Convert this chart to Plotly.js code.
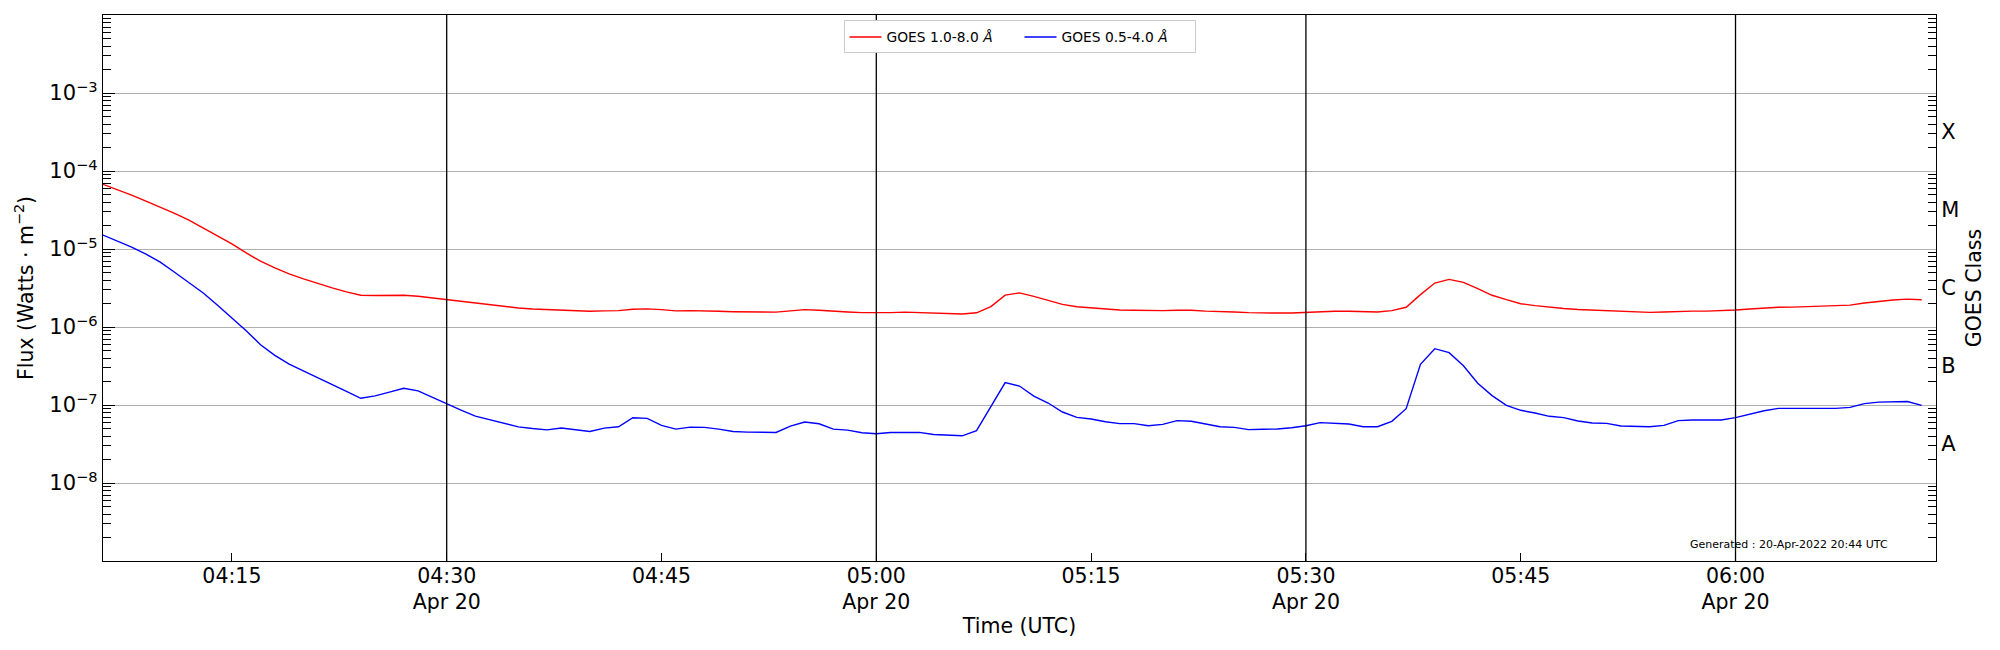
<!DOCTYPE html>
<html>
<head>
<meta charset="utf-8">
<script src="https://cdn.plot.ly/plotly-3.0.1.min.js"></script>
<style>
  body { margin: 0; background: #fff; }
  #goes { width: 2000px; height: 650px; }
</style>
</head>
<body>
<div id="goes"></div>
<script>
// Sample times (UTC, 20 Apr 2022), one per minute
var day = "2022-04-20 ";
var times = [
  "04:06","04:07","04:08","04:09","04:10","04:11","04:12","04:13","04:14","04:15",
  "04:16","04:17","04:18","04:19","04:20","04:21","04:22","04:23","04:24","04:25",
  "04:26","04:27","04:28","04:29","04:30","04:31","04:32","04:33","04:34","04:35",
  "04:36","04:37","04:38","04:39","04:40","04:41","04:42","04:43","04:44","04:45",
  "04:46","04:47","04:48","04:49","04:50","04:51","04:52","04:53","04:54","04:55",
  "04:56","04:57","04:58","04:59","05:00","05:01","05:02","05:03","05:04","05:05",
  "05:06","05:07","05:08","05:09","05:10","05:11","05:12","05:13","05:14","05:15",
  "05:16","05:17","05:18","05:19","05:20","05:21","05:22","05:23","05:24","05:25",
  "05:26","05:27","05:28","05:29","05:30","05:31","05:32","05:33","05:34","05:35",
  "05:36","05:37","05:38","05:39","05:40","05:41","05:42","05:43","05:44","05:45",
  "05:46","05:47","05:48","05:49","05:50","05:51","05:52","05:53","05:54","05:55",
  "05:56","05:57","05:58","05:59","06:00","06:01","06:02","06:03","06:04","06:05",
  "06:06","06:07","06:08","06:09","06:10","06:11","06:12","06:13"
];

// GOES 1.0-8.0 A flux (W/m^2)
var xrsb = [
  6.74e-5,5.8e-5,4.9e-5,4.1e-5,3.45e-5,2.86e-5,2.35e-5,1.87e-5,1.49e-5,1.16e-5,
  8.9e-6,6.98e-6,5.73e-6,4.8e-6,4.14e-6,3.6e-6,3.17e-6,2.82e-6,2.55e-6,2.53e-6,
  2.53e-6,2.55e-6,2.48e-6,2.36e-6,2.25e-6,2.12e-6,2.01e-6,1.92e-6,1.83e-6,1.75e-6,
  1.70e-6,1.67e-6,1.66e-6,1.63e-6,1.59e-6,1.61e-6,1.62e-6,1.69e-6,1.71e-6,1.67e-6,
  1.61e-6,1.62e-6,1.62e-6,1.59e-6,1.57e-6,1.56e-6,1.55e-6,1.55e-6,1.61e-6,1.67e-6,
  1.64e-6,1.59e-6,1.56e-6,1.53e-6,1.52e-6,1.53e-6,1.55e-6,1.53e-6,1.50e-6,1.49e-6,
  1.47e-6,1.52e-6,1.83e-6,2.56e-6,2.74e-6,2.47e-6,2.2e-6,1.95e-6,1.82e-6,1.75e-6,
  1.70e-6,1.65e-6,1.64e-6,1.62e-6,1.62e-6,1.64e-6,1.64e-6,1.60e-6,1.59e-6,1.56e-6,
  1.53e-6,1.51e-6,1.51e-6,1.51e-6,1.54e-6,1.58e-6,1.59e-6,1.59e-6,1.56e-6,1.56e-6,
  1.62e-6,1.79e-6,2.6e-6,3.66e-6,4.08e-6,3.74e-6,3.1e-6,2.55e-6,2.24e-6,1.99e-6,
  1.88e-6,1.79e-6,1.73e-6,1.68e-6,1.65e-6,1.62e-6,1.59e-6,1.56e-6,1.54e-6,1.56e-6,
  1.59e-6,1.60e-6,1.60e-6,1.62e-6,1.65e-6,1.70e-6,1.75e-6,1.79e-6,1.80e-6,1.82e-6,
  1.84e-6,1.86e-6,1.91e-6,2.03e-6,2.13e-6,2.22e-6,2.28e-6,2.24e-6
];

// GOES 0.5-4.0 A flux (W/m^2)
var xrsa = [
  1.51e-5,1.27e-5,1.06e-5,8.6e-6,6.8e-6,5.04e-6,3.75e-6,2.73e-6,1.9e-6,1.31e-6,
  8.97e-7,5.93e-7,4.33e-7,3.35e-7,2.75e-7,2.26e-7,1.83e-7,1.49e-7,1.22e-7,1.31e-7,
  1.46e-7,1.64e-7,1.52e-7,1.25e-7,1.03e-7,8.6e-8,7.2e-8,6.46e-8,5.78e-8,5.24e-8,
  4.99e-8,4.8e-8,5.06e-8,4.85e-8,4.58e-8,5.06e-8,5.26e-8,6.87e-8,6.74e-8,5.47e-8,
  4.91e-8,5.21e-8,5.16e-8,4.91e-8,4.58e-8,4.49e-8,4.49e-8,4.45e-8,5.37e-8,6.04e-8,
  5.75e-8,4.91e-8,4.77e-8,4.41e-8,4.28e-8,4.45e-8,4.45e-8,4.45e-8,4.19e-8,4.15e-8,
  4.03e-8,4.68e-8,9.6e-8,1.94e-7,1.75e-7,1.3e-7,1.06e-7,8.13e-8,6.95e-8,6.62e-8,
  6.11e-8,5.77e-8,5.77e-8,5.43e-8,5.65e-8,6.3e-8,6.18e-8,5.71e-8,5.27e-8,5.17e-8,
  4.83e-8,4.88e-8,4.93e-8,5.12e-8,5.43e-8,5.94e-8,5.82e-8,5.71e-8,5.27e-8,5.27e-8,
  6.18e-8,8.97e-8,3.32e-7,5.27e-7,4.69e-7,3.19e-7,1.9e-7,1.32e-7,9.9e-8,8.55e-8,
  7.89e-8,7.16e-8,6.89e-8,6.24e-8,5.88e-8,5.82e-8,5.38e-8,5.27e-8,5.27e-8,5.48e-8,
  6.3e-8,6.42e-8,6.48e-8,6.42e-8,6.89e-8,7.59e-8,8.45e-8,9.06e-8,9.06e-8,9.06e-8,
  9.06e-8,9.06e-8,9.33e-8,1.04e-7,1.09e-7,1.1e-7,1.11e-7,9.9e-8
];

// tick labels
var xTicks = ["04:15","04:30","04:45","05:00","05:15","05:30","05:45","06:00"];
var xTickText = ["04:15","04:30<br>Apr 20","04:45","05:00<br>Apr 20","05:15","05:30<br>Apr 20","05:45","06:00<br>Apr 20"];
var dayLines = ["04:30","05:00","05:30","06:00"];
var fluxTicks = [1e-8,1e-7,1e-6,1e-5,1e-4,1e-3];
var fluxTickText = ["10<sup>−8</sup>","10<sup>−7</sup>","10<sup>−6</sup>","10<sup>−5</sup>","10<sup>−4</sup>","10<sup>−3</sup>"];
var classes = ["A","B","C","M","X"];
var classPos = [3.16e-8,3.16e-7,3.16e-6,3.16e-5,3.16e-4];

var x = times.map(function(t){ return day + t; });

// minor log ticks 2..9 per decade
var minorVals = [];
for (var e = -9; e < -2; e++) {
  for (var k = 2; k <= 9; k++) minorVals.push(k * Math.pow(10, e));
}

var fontFam = "DejaVu Sans, sans-serif";

var data = [
  {
    x: x, y: xrsb, type: "scatter", mode: "lines",
    name: "GOES 1.0-8.0 <i>Å</i>",
    line: { color: "#ff0000", width: 1.4 }
  },
  {
    // same range as the left axis, so this also gives the class axis its data
    x: x, y: xrsa, type: "scatter", mode: "lines", yaxis: "y2",
    name: "GOES 0.5-4.0 <i>Å</i>",
    line: { color: "#0000ff", width: 1.4 }
  }
];

var shapes = dayLines.map(function(t){
  return { type: "line", xref: "x", yref: "paper", x0: day + t, x1: day + t, y0: 0, y1: 1,
           line: { color: "black", width: 1.3 }, layer: "above" };
});

var layout = {
  width: 2000, height: 650,
  margin: { l: 103, r: 64, t: 15, b: 89 },
  paper_bgcolor: "white", plot_bgcolor: "white",
  font: { family: fontFam, color: "black", size: 20 },
  showlegend: true,
  legend: {
    orientation: "h", x: 0.5, xanchor: "center", y: 0.99, yanchor: "top",
    bordercolor: "#cccccc", borderwidth: 1, bgcolor: "white",
    font: { size: 13.8 }, entrywidth: 128, itemwidth: 32
  },
  xaxis: {
    type: "date",
    range: [day + "04:06:00", day + "06:14:00"],
    tickmode: "array",
    tickvals: xTicks.map(function(t){ return day + t; }),
    ticktext: xTickText,
    ticks: "inside", ticklen: 8, tickcolor: "black",
    showline: true, linecolor: "black", linewidth: 1.1, mirror: true,
    showgrid: false, zeroline: false,
    ticklabelstandoff: -4,
    tickfont: { size: 20.5 },
    title: { text: "Time (UTC)", font: { size: 20.5 }, standoff: 5 }
  },
  yaxis: {
    type: "log", range: [-9, -2],
    tickmode: "array", tickvals: fluxTicks, ticktext: fluxTickText,
    ticks: "inside", ticklen: 12, tickcolor: "black",
    showline: true, linecolor: "black", linewidth: 1.1,
    showgrid: true, gridcolor: "#b0b0b0", gridwidth: 1,
    zeroline: false,
    minor: { tickmode: "array", tickvals: minorVals, ticks: "inside", ticklen: 8, tickcolor: "black", showgrid: false },
    tickfont: { size: 21 },
    title: { text: "Flux (Watts · m<sup>−2</sup>)", font: { size: 20.5 }, standoff: 10 }
  },
  yaxis2: {
    type: "log", range: [-9, -2], overlaying: "y", side: "right",
    tickmode: "array", tickvals: classPos, ticktext: classes,
    ticks: "", showgrid: false, zeroline: false,
    showline: true, linecolor: "black", linewidth: 1.1,
    minor: { tickmode: "array", tickvals: minorVals, ticks: "inside", ticklen: 8, tickcolor: "black", showgrid: false },
    tickfont: { size: 21 },
    title: { text: "GOES Class", font: { size: 20.5 }, standoff: 8 }
  },
  shapes: shapes,
  annotations: [{
    text: "Generated : 20-Apr-2022 20:44 UTC",
    xref: "paper", yref: "paper", x: 0.975, y: 0.031,
    xanchor: "right", yanchor: "middle", showarrow: false,
    font: { size: 11, color: "black" }
  }]
};

Plotly.newPlot("goes", data, layout, { displayModeBar: false, staticPlot: true });
</script>
</body>
</html>
